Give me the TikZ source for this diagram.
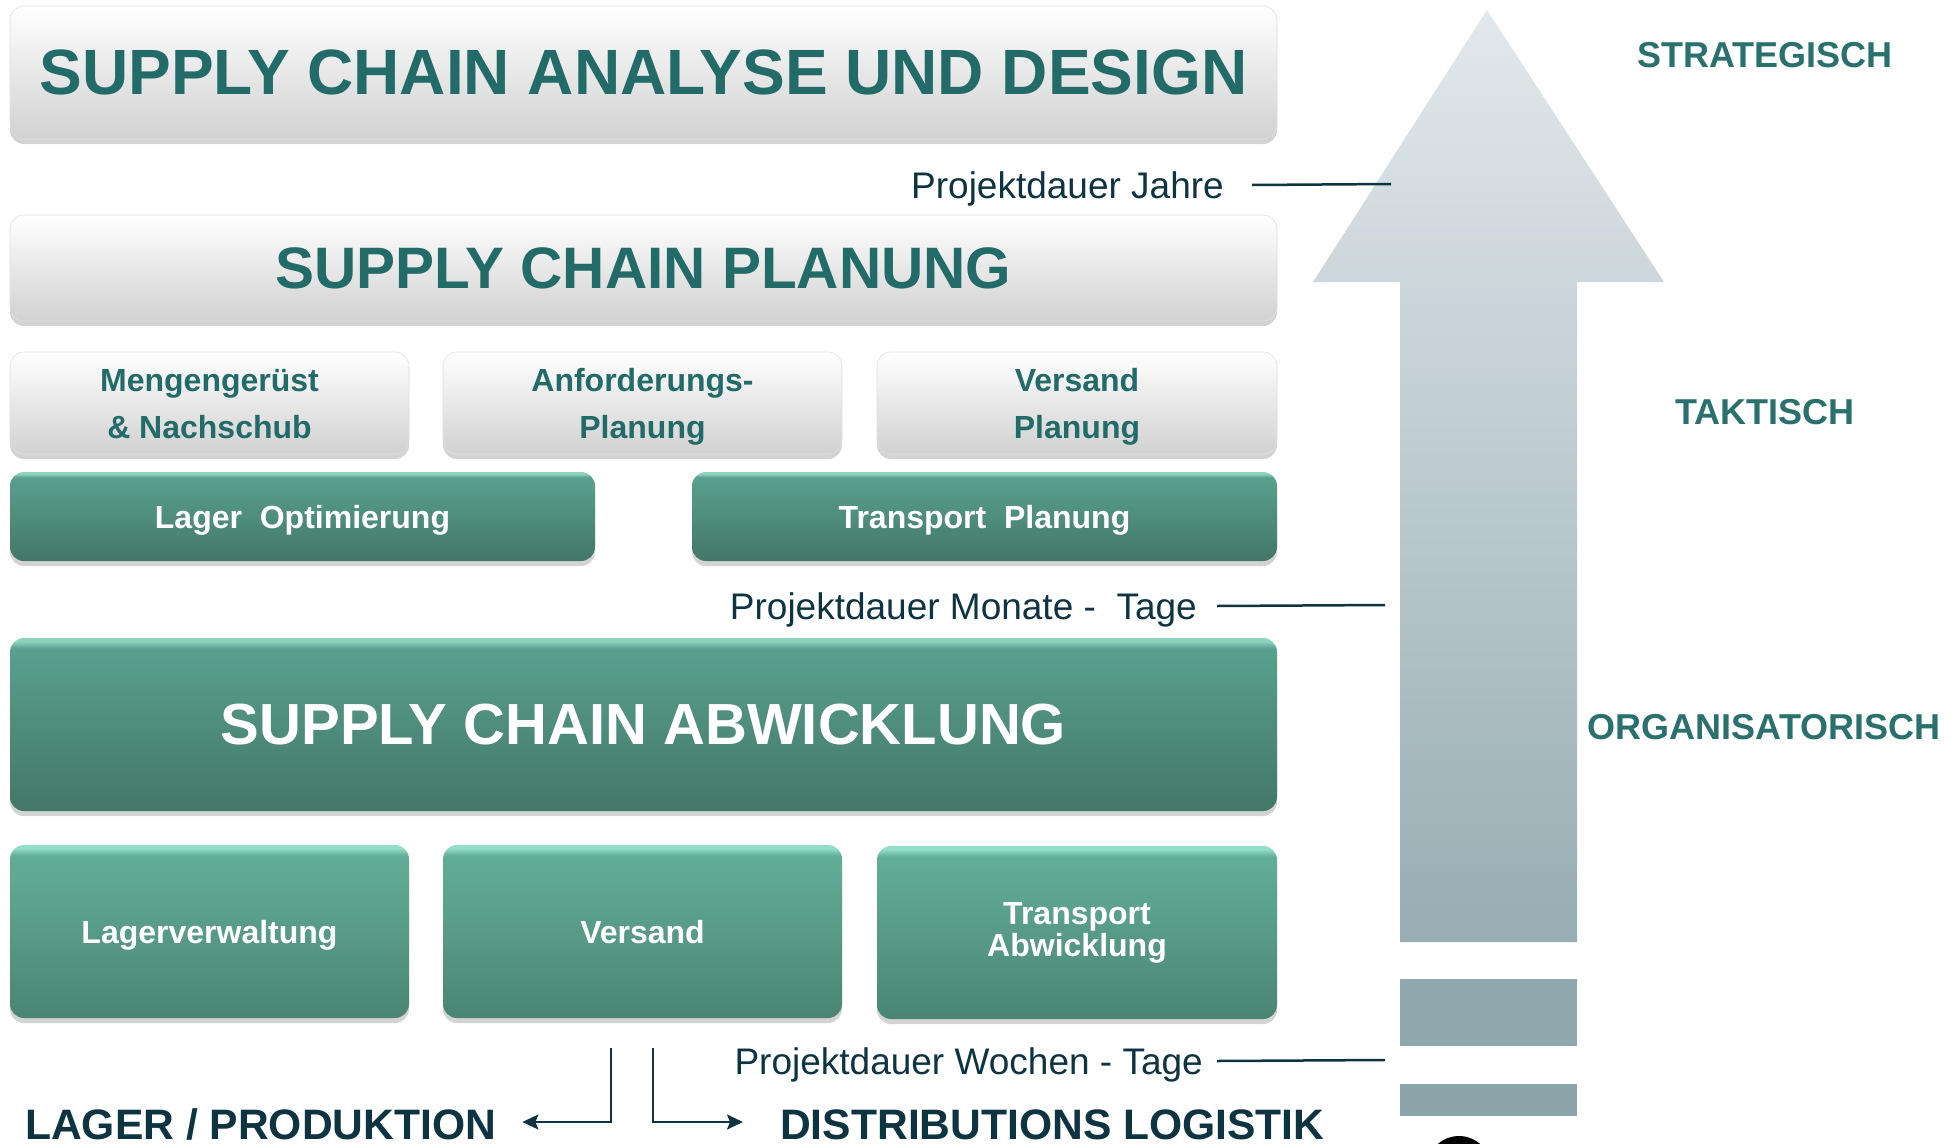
\documentclass[tikz,border=0pt]{standalone}
\usepackage{fontspec}
\setmainfont{Liberation Sans}
\usetikzlibrary{arrows.meta,shadows}

\definecolor{tealtext}{HTML}{236B68}
\definecolor{leveltext}{HTML}{2A706C}
\definecolor{navy}{HTML}{0E3442}
\definecolor{arrowtop}{HTML}{E2E8EB}
\definecolor{arrowlow}{HTML}{97ADB3}
\definecolor{stepone}{HTML}{8FA8AE}
\definecolor{steptwo}{HTML}{89A5AA}

\definecolor{barlow}{HTML}{437767}
\definecolor{barhigh}{HTML}{59A08E}
\definecolor{baredge}{HTML}{8ED3BE}
\definecolor{tilelow}{HTML}{4A8573}
\definecolor{tilehigh}{HTML}{63AE98}
\definecolor{tileedge}{HTML}{93DDC8}

\pgfdeclareverticalshading{barshade}{100bp}{color(0bp)=(barlow); color(25bp)=(barlow);
  color(72bp)=(barhigh); color(74bp)=(baredge); color(100bp)=(baredge)}
\pgfdeclareverticalshading{tileshade}{100bp}{color(0bp)=(tilelow); color(25bp)=(tilelow);
  color(72bp)=(tilehigh); color(74bp)=(tileedge); color(100bp)=(tileedge)}

\newcommand{\topline}{\rule{0pt}{39pt}}

\tikzset{
  box/.style={rounded corners=14pt, inner sep=0pt, align=center,
    drop shadow={opacity=0.35, shadow xshift=0pt, shadow yshift=-5pt}},
  whitebox/.style={box, top color=white, bottom color=black!18, draw=black!12,
    line width=0.6pt, text=tealtext},
  greenbar/.style={box, shading=barshade, text=white},
  greentile/.style={box, shading=tileshade, text=white},
  bigtitle/.style={font=\bfseries\fontsize{#1}{#1}\selectfont},
  smalltext/.style={font=\bfseries\fontsize{32}{47}\selectfont},
  oneline/.style={text height=23pt, text depth=0pt},
  dauer/.style={anchor=east, inner sep=0pt, text=navy, text height=27pt, text depth=0pt,
    font=\fontsize{37}{40}\selectfont},
  dauerline/.style={draw=navy, line width=2.5pt},
  level/.style={inner sep=0pt, text=leveltext, font=\bfseries\fontsize{36}{40}\selectfont},
  target/.style={inner sep=0pt, anchor=west, text=navy, text height=34.5pt, text depth=0pt,
    font=\bfseries\fontsize{42.6}{44}\selectfont},
  conn/.style={draw=navy, line width=2pt, -{Stealth[length=16pt,width=15pt,inset=3pt]}}
}

\begin{document}
\begin{tikzpicture}[x=1pt,y=-1pt]
\useasboundingbox (0,0) rectangle (1951,1143);
\clip (0,0) rectangle (1951,1143);

% arrow and steps
\shade[top color=arrowtop, bottom color=arrowlow]
  (1487,10) -- (1664,282) -- (1577,282) -- (1577,942) -- (1400,942)
  -- (1400,282) -- (1313,282) -- cycle;
\fill[stepone] (1400,979) rectangle (1577,1046);
\fill[steptwo] (1400,1084) rectangle (1577,1116);
\fill[black] (1459,1168) circle (32);

\node[level] (strat) at (1765,55) {STRATEGISCH};
\node[level] (takt) at (1765,412) {TAKTISCH};
\node[level] (orga) at (1764,727) {ORGANISATORISCH};

% strategic
\node[whitebox, bigtitle=64, minimum width=1267pt, minimum height=133pt] (design)
  at (643.5,72.5) {SUPPLY CHAIN ANALYSE UND DESIGN};

\node[dauer] (jahre) at (1224,185) {Projektdauer Jahre};
\coordinate (jahreEnd) at (1391,184);
\draw[dauerline] ([xshift=28pt]jahre.east) -- (jahreEnd);

% tactical
\node[whitebox, bigtitle=58.5, minimum width=1267pt, minimum height=106pt] (planung)
  at (643.5,268) {SUPPLY CHAIN PLANUNG};

\node[whitebox, smalltext, minimum width=399pt, minimum height=102pt] (menge)
  at (209.5,403) {\topline Mengengerüst\\\& Nachschub\strut};
\node[whitebox, smalltext, minimum width=399pt, minimum height=102pt] (anford)
  at (642.5,403) {\topline Anforderungs-\\Planung\strut};
\node[whitebox, smalltext, minimum width=400pt, minimum height=102pt] (versplan)
  at (1077,403) {\topline Versand\\Planung\strut};

\node[greenbar, smalltext, oneline, minimum width=585pt, minimum height=89pt] (lageropt)
  at (302.5,516.5) {Lager\ \ Optimierung};
\node[greenbar, smalltext, oneline, minimum width=585pt, minimum height=89pt] (transplan)
  at (984.5,516.5) {Transport\ \ Planung};

\node[dauer] (monate) at (1197,606) {Projektdauer Monate -\ \ Tage};
\coordinate (monateEnd) at (1385,605);
\draw[dauerline] ([xshift=20pt]monate.east) -- (monateEnd);

% operational
\node[greenbar, bigtitle=58, minimum width=1267pt, minimum height=173pt] (abwicklung)
  at (643.5,724.5) {SUPPLY CHAIN ABWICKLUNG};

\node[greentile, smalltext, oneline, minimum width=399pt, minimum height=173pt] (lagerverw)
  at (209.5,931.5) {Lagerverwaltung};
\node[greentile, smalltext, oneline, minimum width=399pt, minimum height=173pt] (versand)
  at (642.5,931.5) {Versand};
\node[greentile, font=\bfseries\fontsize{32}{32}\selectfont, minimum width=400pt,
  minimum height=173pt] (transabw) at (1077,932.5) {Transport\\Abwicklung};

\node[dauer] (wochen) at (1203,1061) {Projektdauer Wochen - Tage};
\coordinate (wochenEnd) at (1385,1060);
\draw[dauerline] ([xshift=14pt]wochen.east) -- (wochenEnd);

% split below
\node[target] (lager) at (25,1122) {LAGER / PRODUKTION};
\node[target] (distrib) at (780,1122) {DISTRIBUTIONS LOGISTIK};
\coordinate (splitL) at (611,1048);
\coordinate (splitR) at (653,1048);
\draw[conn] (splitL) |- ([xshift=26pt]lager.east);
\draw[conn] (splitR) |- ([xshift=-37pt]distrib.west);
\end{tikzpicture}
\end{document}
